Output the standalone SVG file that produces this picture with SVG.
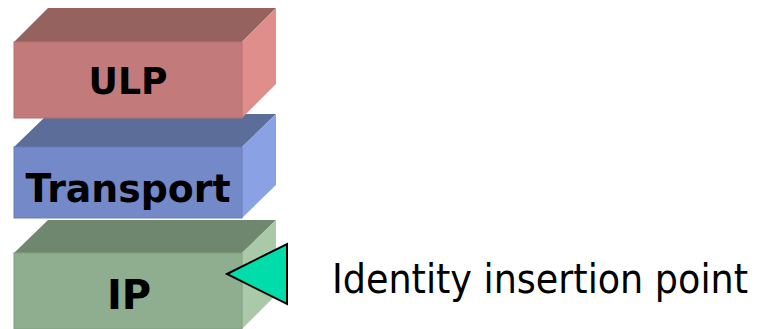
<svg xmlns="http://www.w3.org/2000/svg" width="762" height="329" viewBox="0 0 762 329">
<style>
.lbl{font-family:"DejaVu Sans","Liberation Sans",sans-serif;font-weight:bold;fill:#000;text-anchor:middle}
.note{font-family:"DejaVu Sans Condensed","DejaVu Sans","Liberation Sans",sans-serif;fill:#000}
</style>
<rect width="762" height="329" fill="#fff"/>
<g id="ip">
<polygon points="14,253 48,220 276,220 242,253" fill="#6F876F"/>
<polygon points="242,253 276,220 276,295 242,329" fill="#A9C9A9"/>
<rect x="14" y="253" width="228" height="76" fill="#8FAE8F" stroke="#80A080" stroke-width="1"/>
<text class="lbl" x="129" y="309" font-size="40">IP</text>
</g>
<g id="transport">
<polygon points="14,147 48,114 276,114 242,147" fill="#5D6D9A"/>
<polygon points="242,147 276,114 276,185 242,218" fill="#8AA2E3"/>
<rect x="14" y="147" width="228" height="71" fill="#7489C8" stroke="#6A7DB8" stroke-width="1"/>
<text class="lbl" x="128" y="202" font-size="39" textLength="205" lengthAdjust="spacingAndGlyphs">Transport</text>
</g>
<g id="ulp">
<polygon points="14,42 48,8 276,8 242,42" fill="#956260"/>
<polygon points="242,42 276,8 276,84 242,118" fill="#E08E8C"/>
<rect x="14" y="42" width="228" height="76" fill="#C27B7A" stroke="#B57070" stroke-width="1"/>
<text class="lbl" x="128" y="94" font-size="37" textLength="79" lengthAdjust="spacingAndGlyphs">ULP</text>
</g>
<g id="marker">
<polygon points="227,274 287,244 287,304" fill="#00DDAA" stroke="#000" stroke-width="2" stroke-linejoin="miter"/>
</g>
<g id="label">
<text class="note" x="332" y="293" font-size="40" textLength="416" lengthAdjust="spacingAndGlyphs">Identity insertion point</text>
</g>
</svg>
